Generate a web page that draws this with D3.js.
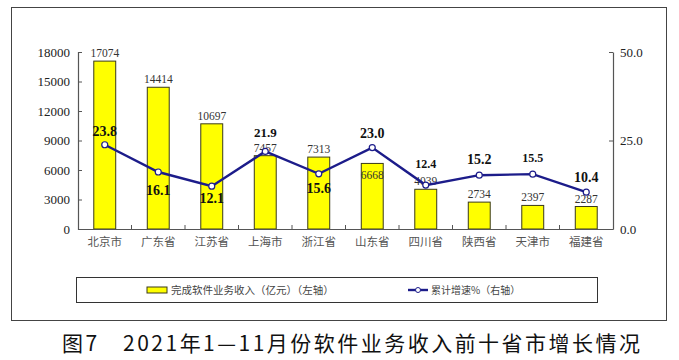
<!DOCTYPE html>
<html>
<head>
<meta charset="utf-8">
<script src="https://cdn.jsdelivr.net/npm/d3@7"></script>
<style>
  body { margin: 0; background: #fff; }
  svg { display: block; }
</style>
</head>
<body>
<div id="chart"></div>
<script>
  "use strict";

  // chart values
  var provinces = ["北京市", "广东省", "江苏省", "上海市", "浙江省", "山东省", "四川省", "陕西省", "天津市", "福建省"];
  var revenue = [17074, 14414, 10697, 7457, 7313, 6668, 4039, 2734, 2397, 2287];
  var growth = [23.8, 16.1, 12.1, 21.9, 15.6, 23.0, 12.4, 15.2, 15.5, 10.4];
  var leftTicks = [0, 3000, 6000, 9000, 12000, 15000, 18000];
  var rightTicks = [0, 25, 50];

  var W = 679, H = 360;
  var margin = { left: 78, right: 66, top: 52, bottom: 131 };
  var serif = "'Liberation Serif', 'Times New Roman', serif";
  var cjk = "'Noto Sans CJK SC', sans-serif";

  var svg = d3.select("#chart").append("svg")
      .attr("width", W)
      .attr("height", H);

  //outer frame
  svg.append("rect")
      .attr("x", 11.5).attr("y", 7.5)
      .attr("width", 655).attr("height", 313)
      .attr("fill", "none")
      .attr("stroke", "#444")
      .attr("stroke-width", 1);

  var x = d3.scaleBand()
      .domain(provinces)
      .range([margin.left, W - margin.right]);

  var yL = d3.scaleLinear()
      .domain([0, 18000])
      .range([H - margin.bottom, margin.top]);

  var yR = d3.scaleLinear()
      .domain([0, 50])
      .range([H - margin.bottom, margin.top]);

  var barW = x.bandwidth() * 0.41;

  //bars
  svg.append("g").selectAll("rect")
      .data(revenue)
      .enter().append("rect")
      .attr("x", function (d, i) { return x(provinces[i]) + (x.bandwidth() - barW) / 2; })
      .attr("y", function (d) { return yL(d); })
      .attr("width", barW)
      .attr("height", function (d) { return yL(0) - yL(d); })
      .attr("fill", "#ffff00")
      .attr("stroke", "#3a3a1a")
      .attr("stroke-width", 1);

  //left axis
  var axL = svg.append("g")
      .attr("transform", "translate(" + margin.left + ",0)")
      .call(d3.axisLeft(yL).tickValues(leftTicks).tickSizeInner(-4).tickSizeOuter(-4).tickPadding(8)
          .tickFormat(d3.format("d")));

  //right axis
  var axR = svg.append("g")
      .attr("transform", "translate(" + (W - margin.right) + ",0)")
      .call(d3.axisRight(yR).tickValues(rightTicks).tickSizeInner(-4).tickSizeOuter(0).tickPadding(7)
          .tickFormat(d3.format(".1f")));

  //bottom axis, ticks sit between the categories
  var axB = svg.append("g")
      .attr("transform", "translate(0," + yL(0) + ")")
      .call(d3.axisBottom(x).tickSize(0).tickPadding(9));

  axB.selectAll(".boundary")
      .data(d3.range(1, provinces.length))
      .enter().append("line")
      .attr("class", "boundary")
      .attr("x1", function (i) { return x(provinces[i]); })
      .attr("x2", function (i) { return x(provinces[i]); })
      .attr("y1", 0).attr("y2", -4)
      .attr("stroke", "#555");

  [axL, axR, axB].forEach(function (ax) {
      ax.selectAll("path.domain").attr("stroke", "#555").attr("stroke-width", 1.2);
      ax.selectAll(".tick line").attr("stroke", "#555");
  });
  axL.selectAll("text").attr("font-family", serif).attr("font-size", 13).attr("fill", "#222");
  axR.selectAll("text").attr("font-family", serif).attr("font-size", 13).attr("fill", "#222");
  axB.selectAll("text").attr("font-family", cjk).attr("font-size", 11.5).attr("fill", "#555");

  //bar value labels (6668 sits inside its bar)
  var barLblInside = [false, false, false, false, false, true, false, false, false, false];
  svg.append("g").selectAll("text")
      .data(revenue)
      .enter().append("text")
      .attr("x", function (d, i) { return x(provinces[i]) + x.bandwidth() / 2; })
      .attr("y", function (d, i) { return barLblInside[i] ? yL(d) + 16 : yL(d) - 4; })
      .attr("text-anchor", "middle")
      .attr("font-family", serif)
      .attr("font-size", 11.5)
      .attr("fill", "#333")
      .text(function (d) { return d; });

  //growth line
  var line = d3.line()
      .x(function (d, i) { return x(provinces[i]) + x.bandwidth() / 2; })
      .y(function (d) { return yR(d); });

  svg.append("path")
      .datum(growth)
      .attr("d", line)
      .attr("fill", "none")
      .attr("stroke", "#1c1c8a")
      .attr("stroke-width", 2.4);

  svg.append("g").selectAll("circle")
      .data(growth)
      .enter().append("circle")
      .attr("cx", function (d, i) { return x(provinces[i]) + x.bandwidth() / 2; })
      .attr("cy", function (d) { return yR(d); })
      .attr("r", 3)
      .attr("fill", "#fff")
      .attr("stroke", "#1c1c8a")
      .attr("stroke-width", 1.2);

  //growth labels: vertical offset of the baseline from the point, and size
  var growthDy = [-9, 23, 17, -14, 19, -10, -17, -11, -12, -10];
  var growthFs = [14, 14, 14, 13, 14, 14, 12, 14, 12, 14];
  svg.append("g").selectAll("text")
      .data(growth)
      .enter().append("text")
      .attr("x", function (d, i) { return x(provinces[i]) + x.bandwidth() / 2; })
      .attr("y", function (d, i) { return yR(d) + growthDy[i]; })
      .attr("text-anchor", "middle")
      .attr("font-family", serif)
      .attr("font-weight", "bold")
      .attr("font-size", function (d, i) { return growthFs[i]; })
      .attr("fill", "#111")
      .text(function (d) { return d3.format(".1f")(d); });

  //legend
  var lg = svg.append("g");
  lg.append("rect")
      .attr("x", 76.5).attr("y", 277.5)
      .attr("width", 521).attr("height", 25)
      .attr("fill", "#fff")
      .attr("stroke", "#333");

  lg.append("rect")
      .attr("x", 147).attr("y", 287)
      .attr("width", 20).attr("height", 6)
      .attr("fill", "#ffff00")
      .attr("stroke", "#3a3a1a");
  lg.append("text")
      .attr("x", 171).attr("y", 294)
      .attr("font-family", cjk)
      .attr("font-size", 10.5)
      .attr("fill", "#444")
      .text("完成软件业务收入（亿元）（左轴）");

  lg.append("line")
      .attr("x1", 408).attr("x2", 428)
      .attr("y1", 290).attr("y2", 290)
      .attr("stroke", "#1c1c8a").attr("stroke-width", 2.4);
  lg.append("circle")
      .attr("cx", 418).attr("cy", 290).attr("r", 2.5)
      .attr("fill", "#fff").attr("stroke", "#1c1c8a");
  lg.append("text")
      .attr("x", 431).attr("y", 294)
      .attr("font-family", cjk)
      .attr("font-size", 10)
      .attr("fill", "#444")
      .text("累计增速%（右轴）");

  //caption
  svg.append("text")
      .attr("x", 62).attr("y", 351)
      .attr("font-family", cjk)
      .attr("font-size", 21)
      .attr("fill", "#111")
      .attr("textLength", 578)
      .attr("lengthAdjust", "spacing")
      .text("图7　2021年1—11月份软件业务收入前十省市增长情况");
</script>
</body>
</html>
